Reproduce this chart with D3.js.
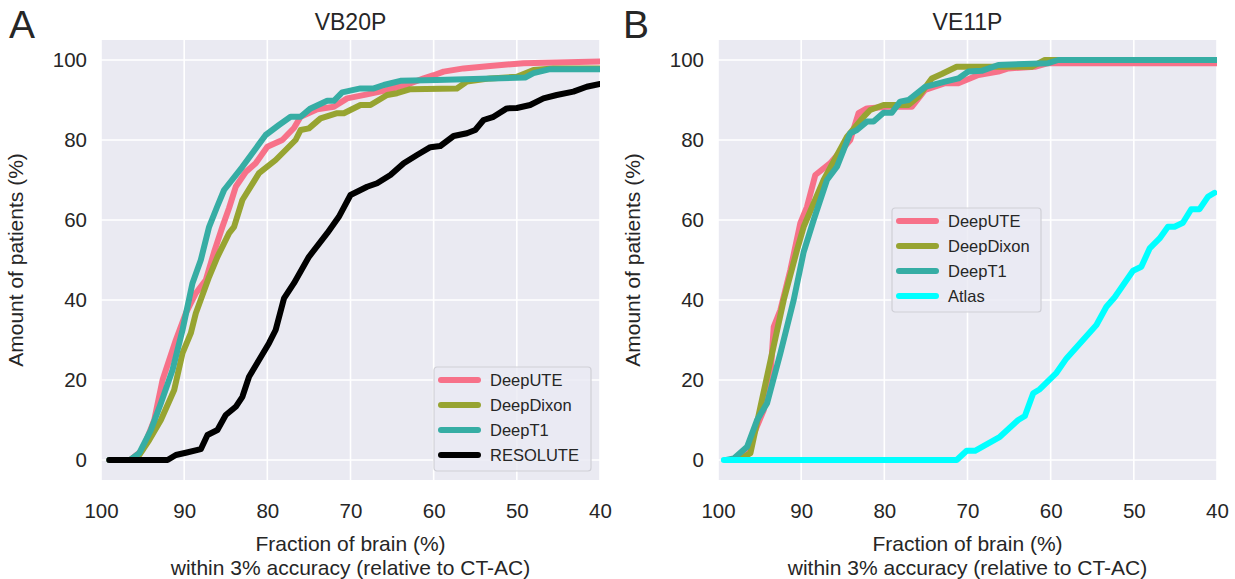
<!DOCTYPE html>
<html lang="en">
<head>
<meta charset="utf-8" />
<title>Fraction of brain within 3% accuracy</title>
<style>
  body { margin: 0; background: #fff; }
  svg text { font-family: "Liberation Sans", Arial, sans-serif; fill: #262626; }
</style>
</head>
<body>
<div id="chart"></div>
<script src="https://cdn.jsdelivr.net/npm/d3@7"></script>
<script>
"use strict";

// x = fraction of brain (%), y = amount of patients (%)
let vb20pDeepUTE = [[99,0],[96.5,0],[95,2.5],[93.6,10],[92.6,20],[91,30],[89.8,36.7],[88.6,41.7],[87.4,45],[86.4,52],[85.4,58.3],[84.6,63],[83.8,68.3],[82.6,72],[81.4,74.2],[80,78.3],[78.2,80],[76.8,83],[76,85.8],[74,87.7],[72,88.3],[70.4,90.4],[68,91.4],[65.6,92.5],[63,94],[61.2,95.4],[60,96.2],[58.8,97.1],[56.4,97.9],[53.2,98.5],[49.2,99.2],[40,99.6]]
let vb20pDeepDixon = [[99,0],[96.5,0],[95.4,1.25],[94.2,5],[92.8,10],[91.2,17.5],[90.2,26.7],[89.2,31.7],[88.6,36.7],[87,45.8],[86,50.8],[84.6,56.7],[84,58.3],[83,65],[81,71.7],[79,75],[77.2,78.75],[76.6,80],[76,82.5],[75,82.9],[73.6,85.4],[71.6,86.7],[70.8,86.7],[68.8,88.75],[67.6,88.75],[65.6,91.25],[64.4,91.7],[62.8,92.7],[57.2,92.9],[56,94.6],[53.2,95.4],[50,95.8],[48,97.5],[45.6,97.9],[40,97.9]]
let vb20pDeepT1 = [[99,0],[96.5,0],[95.4,1.7],[94,7.5],[92.8,14.2],[91.4,22.5],[90.2,32.5],[89,44.2],[88,50],[87,58.3],[86,63.5],[85.2,67.5],[83,73.3],[80.2,81.25],[78.6,83.75],[77.2,85.8],[76,85.8],[74.8,87.9],[72.8,89.8],[72,89.8],[71,91.9],[68.8,92.9],[67.2,92.9],[66,93.75],[64,94.8],[59.6,95],[49,95.6],[48,96.7],[46,97.7],[40,97.7]]
let vb20pResolute = [[99,0],[92,0],[91,1.25],[89.8,1.8],[88,2.7],[87.2,6.25],[86,7.5],[85,11.25],[83.8,13.3],[83,15.8],[82.2,20.8],[81,25],[79.8,29.2],[79,32.5],[78,40.4],[76.8,44.2],[75,50.8],[72.8,56.7],[71.4,60.8],[70,66.25],[68,68.3],[66.8,69.2],[65.2,71.25],[63.6,74.2],[62,76.25],[60.4,78.2],[59.2,78.5],[57.6,81],[56,81.7],[55,82.5],[54,85],[52.8,85.8],[51.2,87.9],[50,88],[48.4,88.75],[46.8,90.4],[45.2,91.25],[43.2,92.1],[41.6,93.3],[40,94]]

let ve11pDeepUTE = [[99,0],[97.5,0],[96.9,0.8],[95.5,7.5],[94.5,12.5],[93.7,20.8],[93.3,33.3],[92.5,37.5],[91.3,47.5],[90.1,59.2],[89.3,63.3],[88.3,71.25],[86.5,74.2],[84.1,80],[83.1,86.7],[82.1,87.9],[79.7,88.3],[76.7,88.3],[75.1,92.5],[72.7,94.2],[71.1,94.2],[68.7,96.25],[66.3,97.1],[65.1,97.9],[61.9,98.3],[60.3,99.2],[40,99.2]]
let ve11pDeepDixon = [[99,0],[97.5,0],[96.1,1.7],[94.9,13.3],[92.1,40],[90.5,52.5],[89.7,58.3],[87.3,70],[84.5,80.8],[82.5,85.8],[81.7,87.5],[80.1,88.75],[77.1,88.75],[75.9,90.8],[74.3,95.4],[73.1,96.5],[71.3,98.3],[62.3,98.3],[60.7,100],[40,100]]
let ve11pDeepT1 = [[99,0],[98.1,0.4],[96.5,3.3],[95.3,10],[94.1,14.2],[92.5,26.7],[90.9,40],[89.7,52],[88.5,60],[86.9,70],[85.7,73.3],[84.1,81.7],[83.3,82.5],[82.1,84.6],[81.3,84.6],[80.1,86.8],[79.1,86.8],[78.1,89.6],[77.1,90],[75.1,93.3],[72.7,94.6],[71.1,95.4],[69.9,97.1],[68.3,97.3],[66.3,98.75],[60.3,99.2],[59.1,100],[40,100]]
let ve11pAtlas = [[99.3,0],[71.3,0],[70.1,2.3],[69.1,2.3],[66.1,5.8],[63.9,10],[63.1,11],[62.1,16.7],[61.3,17.7],[59.3,21.8],[58.1,25.4],[54.5,33.75],[53.3,38.3],[52.3,40.7],[50.1,47.3],[49.1,48.3],[48.1,52.9],[46.9,55.4],[45.9,58.3],[45.1,58.3],[44.1,59.3],[43.1,62.7],[42.1,62.7],[41.1,65.8],[40.3,66.8]]

let xTicks = [100, 90, 80, 70, 60, 50, 40]
let yTicks = [0, 20, 40, 60, 80, 100]

let colors = {
  DeepUTE: "#f77189", DeepDixon: "#97a431", DeepT1: "#36ada4",
  RESOLUTE: "#000000", Atlas: "#00ffff"
}

let width = 1235, height = 579
let svg = d3.select("#chart").append("svg")
  .attr("width", width).attr("height", height)

let panels = [
  { letter: "A", title: "VB20P", left: 101, right: 600, letterX: 9,
    series: [["DeepUTE", vb20pDeepUTE], ["DeepDixon", vb20pDeepDixon], ["DeepT1", vb20pDeepT1], ["RESOLUTE", vb20pResolute]],
    legend: { x: 434, y: 367, w: 157, h: 104 } },
  { letter: "B", title: "VE11P", left: 718, right: 1217, letterX: 623,
    series: [["DeepUTE", ve11pDeepUTE], ["DeepDixon", ve11pDeepDixon], ["DeepT1", ve11pDeepT1], ["Atlas", ve11pAtlas]],
    legend: { x: 892, y: 208, w: 149, h: 104 } }
]

panels.forEach((p, i) => drawPanel(p, i))

function drawPanel(p, i) {
  let x = d3.scaleLinear().domain([100, 40]).range([p.left, p.right])
  let y = d3.scaleLinear().domain([-5, 105]).range([480, 40])
  let g = svg.append("g")

  g.append("rect")
    .attr("x", p.left).attr("y", y(105))
    .attr("width", p.right - p.left).attr("height", y(-5) - y(105))
    .attr("fill", "#eaeaf2")

  g.selectAll(".vgrid").data(xTicks).join("line")
    .attr("x1", d => x(d)).attr("x2", d => x(d))
    .attr("y1", y(105)).attr("y2", y(-5))
    .attr("stroke", "#fff").attr("stroke-width", 1.6)
  g.selectAll(".hgrid").data(yTicks).join("line")
    .attr("x1", p.left).attr("x2", p.right)
    .attr("y1", d => y(d)).attr("y2", d => y(d))
    .attr("stroke", "#fff").attr("stroke-width", 1.6)

  // axes without tick marks, seaborn darkgrid style
  let xAxis = g.append("g")
    .attr("transform", `translate(0,${y(-5)})`)
    .call(d3.axisBottom(x).tickValues(xTicks).tickSize(0).tickPadding(23))
  let yAxis = g.append("g")
    .attr("transform", `translate(${p.left},0)`)
    .call(d3.axisLeft(y).tickValues(yTicks).tickSize(0).tickPadding(14))
  ;[xAxis, yAxis].forEach(a => {
    a.select(".domain").remove()
    a.selectAll("text").style("font-size", "20.5px").attr("fill", "#262626")
  })

  let clipId = "clip" + i
  g.append("clipPath").attr("id", clipId).append("rect")
    .attr("x", p.left).attr("y", y(105))
    .attr("width", p.right - p.left).attr("height", y(-5) - y(105))

  let line = d3.line().x(d => x(d[0])).y(d => y(d[1]))
  p.series.forEach(([name, pts]) => {
    g.append("path")
      .datum(pts)
      .attr("clip-path", `url(#${clipId})`)
      .attr("fill", "none")
      .attr("stroke", colors[name])
      .attr("stroke-width", 6)
      .attr("stroke-linejoin", "round")
      .attr("stroke-linecap", "round")
      .attr("d", line)
  })

  let cx = (p.left + p.right) / 2
  g.append("text").attr("x", cx).attr("y", 30)
    .attr("text-anchor", "middle").style("font-size", "23px").text(p.title)
  g.append("text").attr("x", p.letterX).attr("y", 38)
    .style("font-size", "39px").attr("fill", "#000").text(p.letter)

  g.append("text").attr("x", cx).attr("y", 551)
    .attr("text-anchor", "middle").style("font-size", "21px").text("Fraction of brain (%)")
  g.append("text").attr("x", cx).attr("y", 575)
    .attr("text-anchor", "middle").style("font-size", "21px")
    .text("within 3% accuracy (relative to CT-AC)")
  g.append("text")
    .attr("transform", `translate(${p.left - 78},${y(50)}) rotate(-90)`)
    .attr("text-anchor", "middle").style("font-size", "21px")
    .text("Amount of patients (%)")

  // legend
  let L = p.legend
  let lg = g.append("g").attr("transform", `translate(${L.x},${L.y})`)
  lg.append("rect").attr("width", L.w).attr("height", L.h).attr("rx", 3)
    .attr("fill", "#eaeaf2").attr("fill-opacity", 0.8)
    .attr("stroke", "#cfcfd6").attr("stroke-width", 1.2)
  p.series.forEach(([name], k) => {
    let yy = 13 + k * 25
    lg.append("line").attr("x1", 7).attr("x2", 44).attr("y1", yy).attr("y2", yy)
      .attr("stroke", colors[name]).attr("stroke-width", 6).attr("stroke-linecap", "round")
    lg.append("text").attr("x", 56).attr("y", yy + 6)
      .style("font-size", "16.5px").text(name)
  })
}
</script>
</body>
</html>
